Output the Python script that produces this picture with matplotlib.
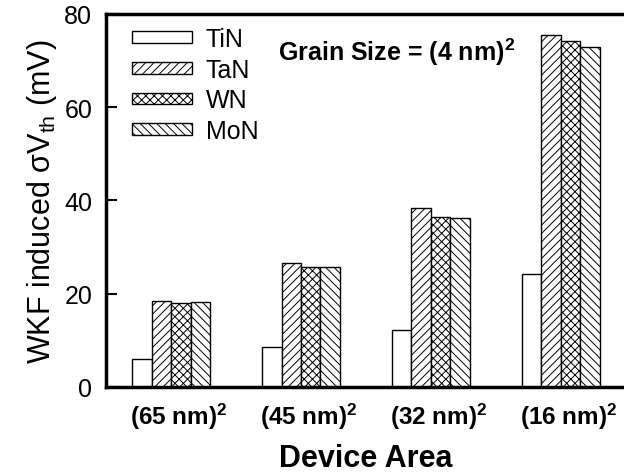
import numpy as np
import matplotlib.pyplot as plt

plt.rcParams['font.family'] = ['Liberation Sans', 'DejaVu Sans']
plt.rcParams['mathtext.fontset'] = 'custom'
plt.rcParams['mathtext.rm'] = 'Liberation Sans'
plt.rcParams['mathtext.bf'] = 'Liberation Sans:bold'
plt.rcParams['mathtext.it'] = 'Liberation Sans:italic'
plt.rcParams['hatch.linewidth'] = 0.7

# 数据
areas = [r'(65 nm)$^{\mathbf{2}}$', r'(45 nm)$^{\mathbf{2}}$',
         r'(32 nm)$^{\mathbf{2}}$', r'(16 nm)$^{\mathbf{2}}$']
materials = ['TiN', 'TaN', 'WN', 'MoN']
tin = [6.0, 8.5, 12.1, 24.2]
tan = [18.3, 26.5, 38.4, 75.5]
wn = [17.9, 25.7, 36.5, 74.2]
mon = [18.1, 25.7, 36.3, 72.8]
hatches = ['', '////', 'xxxx', '\\\\\\\\']

fig = plt.figure(figsize=(6.24, 4.77), dpi=100)
ax = fig.add_axes([0.170, 0.187, 0.833, 0.782])

x = np.arange(len(areas))
w = 0.15
for i, (vals, name) in enumerate(zip([tin, tan, wn, mon], materials)):
    ax.bar(x + (i - 1.5) * w, vals, w, color='white', edgecolor='black',
           linewidth=1.0, hatch=hatches[i], label=name)

ax.set_xlim(-0.5, 3.5)
ax.set_ylim(0, 80)
ax.set_yticks([0, 20, 40, 60, 80])
# 刻度不可见，标签略微右移
ax.set_xticks(x + 0.06)
ax.set_xticklabels(areas, fontsize=17.5, fontweight='bold')
ax.tick_params(axis='x', length=0, pad=10)
ax.tick_params(axis='y', direction='in', length=8, width=1.5, labelsize=18, pad=10)
for s in ax.spines.values():
    s.set_linewidth(2.5)

ax.set_xlabel('Device Area', fontsize=22, fontweight='bold', labelpad=9)
ax.set_ylabel(r'WKF induced σV$_{\mathrm{th}}$ (mV)', fontsize=22, labelpad=4)

ax.text(0.33, 0.90, r'Grain Size = (4 nm)$^{\mathbf{2}}$', transform=ax.transAxes,
        fontsize=18, fontweight='bold', ha='left', va='center')

ax.legend(loc='upper left', bbox_to_anchor=(0.035, 0.985), frameon=False,
          fontsize=18, handlelength=2.4, handleheight=0.35,
          labelspacing=0.27, handletextpad=0.55, borderaxespad=0.1,
          borderpad=0.2)

plt.savefig('out.png', dpi=100)
